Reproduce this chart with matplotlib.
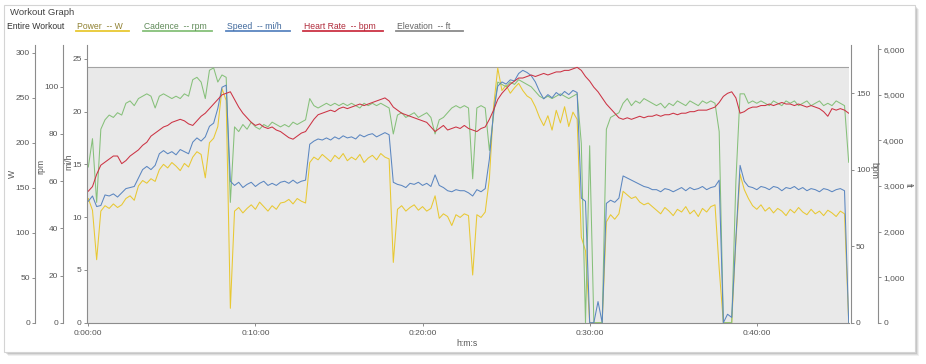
#Workout graph: power, cadence, speed, heart rate and elevation over elapsed time
#each measure gets its own y axis, like the original web chart
from matplotlib import pyplot as plt
from matplotlib import patches as mp
from matplotlib.lines import Line2D
from matplotlib.ticker import FuncFormatter

plt.rcParams['font.family'] = ['Liberation Sans', 'DejaVu Sans']

#one sample every 15 seconds
STEP_S = 15

POWER_W = [
    138, 125, 70, 124, 130, 127, 132, 128, 131, 138,
    141, 136, 152, 158, 155, 160, 157, 170, 176, 172,
    178, 174, 169, 177, 173, 184, 190, 187, 161, 200,
    205, 218, 260, 247, 16, 124, 128, 122, 127, 131,
    126, 134, 129, 124, 130, 126, 133, 134, 137, 132,
    138, 135, 133, 178, 184, 181, 187, 183, 179, 186,
    182, 188, 180, 184, 181, 187, 178, 183, 186, 181,
    188, 184, 182, 67, 126, 130, 124, 128, 131, 125,
    129, 124, 127, 141, 116, 121, 118, 108, 120, 117,
    121, 119, 53, 120, 117, 123, 160, 240, 283, 258,
    264, 255, 261, 266, 258, 252, 249, 240, 228, 219,
    230, 214, 236, 222, 240, 218, 234, 226, 95, 80,
    0, 0, 0, 0, 112, 120, 115, 121, 146, 142,
    138, 140, 134, 131, 133, 129, 125, 121, 128, 124,
    119, 126, 123, 129, 121, 125, 118, 127, 123, 129,
    131, 60, 0, 0, 0, 90, 165, 148, 138, 130,
    126, 131, 124, 128, 122, 127, 124, 119, 126, 122,
    128, 123, 120, 126, 121, 124, 119, 125, 122, 118,
    124, 121, 0,
]

CADENCE_RPM = [
    66, 78, 51, 82, 86, 88, 87, 89, 88, 93,
    94, 92, 95, 96, 97, 96, 91, 96, 97, 96,
    95, 96, 95, 97, 96, 103, 104, 102, 95, 107,
    108, 102, 105, 104, 51, 83, 81, 84, 82, 85,
    83, 82, 84, 83, 85, 84, 83, 84, 83, 85,
    84, 85, 86, 95, 92, 91, 92, 93, 92, 93,
    92, 93, 92, 93, 92, 91, 93, 92, 93, 92,
    93, 92, 91, 80, 88, 89, 87, 88, 89, 87,
    88, 89, 87, 80, 86, 87, 89, 91, 92, 91,
    92, 91, 61, 91, 92, 91, 73, 88, 102, 101,
    100, 102, 101, 103, 102, 101, 100, 98, 96, 95,
    96, 95, 96, 97, 96, 95, 96, 97, 76, 0,
    75, 0, 0, 0, 82, 87, 88, 89, 93, 95,
    92, 94, 93, 95, 94, 93, 92, 93, 91, 93,
    92, 94, 93, 92, 94, 93, 92, 94, 93, 94,
    93, 81, 0, 0, 0, 60, 97, 97, 93, 94,
    93, 94, 93, 92, 94, 93, 92, 94, 93, 94,
    92, 93, 94, 92, 93, 94, 92, 93, 92, 94,
    93, 92, 68,
]

SPEED_MPH = [
    11.5, 12.0, 11.0, 11.1, 12.1, 12.0, 12.2, 11.9, 12.3, 12.7,
    12.8, 12.9, 13.7, 14.5, 14.8, 14.5, 14.9, 16.0, 16.3, 16.0,
    16.2, 15.9, 16.4, 16.2, 16.0, 17.1, 17.5, 17.2, 17.6, 18.6,
    18.9, 20.3, 22.3, 22.5, 13.4, 13.0, 13.3, 12.8, 13.1, 13.3,
    12.9, 13.2, 13.4, 13.0, 13.2, 13.0, 13.3, 13.4, 13.2, 13.5,
    13.2, 13.4, 13.5, 16.9, 17.2, 17.4, 17.3, 17.5, 17.3, 17.6,
    17.4, 17.7, 17.5, 17.6, 17.4, 17.8, 17.6, 17.8, 17.9, 17.6,
    17.8, 18.0, 17.8, 13.3, 13.1, 13.0, 12.8, 13.2, 13.1, 13.3,
    13.0, 13.2, 12.9, 14.0, 13.0, 12.8, 12.5, 12.4, 12.6, 12.5,
    12.5, 12.3, 12.0, 12.6, 12.4, 12.7, 15.5, 20.0, 22.4, 22.8,
    22.6, 23.0, 22.9, 23.6, 23.9, 23.7, 23.4, 22.8, 21.9, 21.2,
    21.6, 21.3, 21.8, 21.5, 21.9, 21.6, 22.0, 21.8, 11.8, 11.5,
    0, 0, 2.0, 0, 11.3, 11.6, 11.4, 11.8, 13.9, 13.7,
    13.5, 13.3, 13.1, 12.9, 12.8, 12.6, 12.6, 12.4, 12.7, 12.6,
    12.4, 12.6, 12.8, 12.5, 12.8, 12.6, 12.7, 12.9, 12.6, 12.8,
    12.9, 13.5, 0, 0.8, 0.5, 8.0, 14.9, 13.4, 12.9, 12.8,
    12.6, 12.9, 12.8, 12.6, 12.9, 12.8, 12.5, 12.8, 12.7, 12.9,
    12.6, 12.8, 12.5, 12.7, 12.6, 12.4, 12.7, 12.6, 12.4, 12.6,
    12.7, 12.5, 0,
]

HR_BPM = [
    86, 89, 97, 103, 105, 107, 109, 109, 104, 106,
    109, 111, 113, 116, 118, 122, 124, 126, 128, 129,
    131, 132, 133, 132, 130, 129, 132, 135, 137, 140,
    143, 146, 149, 150, 151, 146, 141, 137, 134, 131,
    129, 130, 128, 127, 128, 126, 125, 123, 121, 120,
    122, 124, 125, 129, 133, 136, 137, 138, 139, 138,
    140, 141, 140, 141, 142, 143, 142, 143, 144, 145,
    146, 147, 145, 141, 139, 137, 136, 135, 134, 133,
    132, 131, 128, 125, 127, 129, 126, 127, 128, 127,
    129, 127, 126, 125, 127, 128, 133, 139, 146, 150,
    153, 156, 158, 160, 160, 161, 162, 161, 162, 163,
    162, 163, 164, 164, 165, 165, 166, 167, 165, 161,
    158, 154, 151, 147, 143, 140, 137, 134, 133, 134,
    133, 134, 135, 134, 135, 135, 136, 135, 136, 136,
    137, 136, 137, 137, 138, 138, 139, 139, 139, 140,
    141, 144, 148, 150, 151, 147, 137, 138, 140, 141,
    141, 142, 142, 143, 142, 143, 144, 143, 143, 142,
    143, 142, 141, 142, 141, 140, 138, 135, 140, 139,
    140, 139, 137,
]

#elevation is flat for the whole ride (indoor trainer)
ELEV_T = [0, 2730]
ELEV_FT = [5620, 5620]

TIME_S = [i * STEP_S for i in range(len(POWER_W))]

X_TICKS = [0, 600, 1200, 1800, 2400]
W_TICKS = [0, 50, 100, 150, 200, 250, 300]
RPM_TICKS = [0, 20, 40, 60, 80, 100]
MPH_TICKS = [0, 5, 10, 15, 20, 25]
BPM_TICKS = [0, 50, 100, 150]
FT_TICKS = [0, 1000, 2000, 3000, 4000, 5000, 6000]

LEGEND = [
    ('Power  -- W', '#e8c832', '#8f8030'),
    ('Cadence  -- rpm', '#86c07a', '#5f8a58'),
    ('Speed  -- mi/h', '#5b86c0', '#3f689c'),
    ('Heart Rate  -- bpm', '#cc3344', '#b02a3a'),
    ('Elevation  -- ft', '#8a8a8a', '#666666'),
]

W_PX, H_PX = 926, 364
SPINE = '#8c8c8c'
TICKTXT = '#555555'


def fx(px):
    return px / W_PX


def fy(py):
    return 1 - py / H_PX


def pt(px):
    return px * 72 / 100


fig = plt.figure(figsize=(W_PX / 100, H_PX / 100), dpi=100)

#card with a soft shadow
for d, a in [(4, 0.06), (3, 0.08), (2, 0.10), (1, 0.12)]:
    fig.add_artist(mp.Rectangle((fx(4 + d), fy(352 + d)), fx(911), (347) / H_PX,
                                transform=fig.transFigure, facecolor='#000000',
                                alpha=a, lw=0, zorder=-5))
fig.add_artist(mp.Rectangle((fx(4), fy(352)), fx(911), 347 / H_PX,
                            transform=fig.transFigure, facecolor='white',
                            edgecolor='#d4d4d4', lw=0.8, zorder=-4))

#host axes carries elevation and the time axis
ax = fig.add_axes([fx(88.3), fy(322.7), fx(760.4), 277.7 / H_PX])
ax.patch.set_visible(False)
ax.set_xlim(0, 2730)
ax.set_ylim(0, 6094)
ax.fill_between(ELEV_T, 0, ELEV_FT, color='#e9e9e9', lw=0)
ax.plot(ELEV_T, ELEV_FT, color='#a3a3a3', lw=0.8)


def make_twin(side, offset_px, ylim, ticks, x, y, color):
    t = ax.twinx()
    for s in t.spines.values():
        s.set_visible(False)
    t.spines[side].set_visible(True)
    t.spines[side].set_position(('outward', pt(offset_px)))
    t.spines[side].set_color(SPINE)
    t.spines[side].set_linewidth(0.8)
    if side == 'left':
        t.yaxis.tick_left()
    else:
        t.yaxis.tick_right()
    t.set_ylim(*ylim)
    t.set_yticks(ticks)
    t.tick_params(axis='y', direction='out', length=2.4, width=0.7, color=SPINE,
                  labelcolor=TICKTXT, labelsize=6, pad=1.2)
    t.plot(x, y, color=color, lw=0.75)
    return t


ax_w = make_twin('left', 53.3, (0, 308.6), W_TICKS, TIME_S, POWER_W, '#e8c832')
ax_rpm = make_twin('left', 25, (0, 117.7), RPM_TICKS, TIME_S, CADENCE_RPM, '#86c07a')
ax_mph = make_twin('left', 1.6, (0, 26.3), MPH_TICKS, TIME_S, SPEED_MPH, '#5b86c0')
ax_bpm = make_twin('right', 2.3, (0, 181.6), BPM_TICKS, TIME_S, HR_BPM, '#cc3344')

#host axis styling has to come after twinx, which moves its ticks
for s in ['left', 'top']:
    ax.spines[s].set_visible(False)
ax.yaxis.tick_right()
ax.spines['right'].set_position(('outward', pt(29.6)))
ax.spines['right'].set_color(SPINE)
ax.spines['right'].set_linewidth(0.8)
ax.spines['bottom'].set_color(SPINE)
ax.spines['bottom'].set_linewidth(0.8)
ax.set_yticks(FT_TICKS)
ax.yaxis.set_major_formatter(FuncFormatter(lambda v, p: '{:,}'.format(int(v))))
ax.set_xticks(X_TICKS)
ax.xaxis.set_major_formatter(FuncFormatter(
    lambda v, p: '%d:%02d:%02d' % (v // 3600, (v % 3600) // 60, v % 60)))
ax.tick_params(direction='out', length=2.4, width=0.7, color=SPINE,
               labelcolor=TICKTXT, labelsize=6, pad=1.2)
ax.tick_params(axis='x', pad=2.5)

#axis titles
txt = dict(fontsize=6.2, color='#555555', ha='center', va='center')
fig.text(fx(12.7), fy(174), 'W', rotation=90, **txt)
fig.text(fx(40.8), fy(166), 'rpm', rotation=90, **txt)
fig.text(fx(69.2), fy(162), 'mi/h', rotation=90, **txt)
fig.text(fx(874), fy(171), 'bpm', rotation=270, **txt)
fig.text(fx(908.7), fy(185), 'ft', rotation=270, **txt)
fig.text(fx(467), fy(343), 'h:m:s', **txt)

#header and legend
fig.text(fx(10.5), fy(12.7), 'Workout Graph', fontsize=6.8, color='#444444', va='center')
fig.text(fx(7.3), fy(26.7), 'Entire Workout', fontsize=6.2, color='#333333', va='center')

starts = [77, 144, 227, 304, 397]
ends = [129, 212, 290, 383, 463]
for (label, line_col, text_col), x0, x1 in zip(LEGEND, starts, ends):
    fig.text(fx(x0), fy(26.7), label, fontsize=6.2, color=text_col, va='center')
    fig.add_artist(Line2D([fx(x0 - 1), fx(x1)], [fy(31), fy(31)],
                          transform=fig.transFigure, color=line_col, lw=1.3))

fig.savefig('out.png', dpi=100)
